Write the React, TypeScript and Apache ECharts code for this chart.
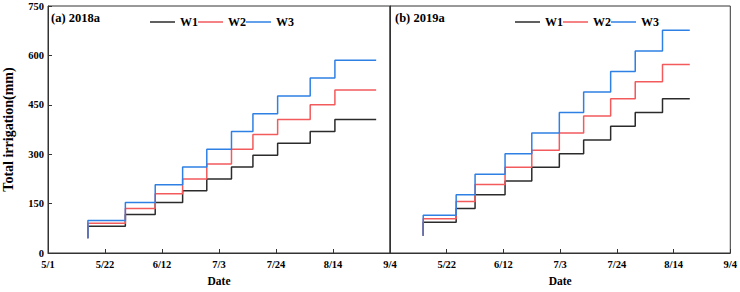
import React, { useEffect, useRef } from "react";
import * as echarts from "echarts";

// Days counted from 5/1; tick labels every 21 days
const tickLabels = ["5/1", "5/22", "6/12", "7/3", "7/24", "8/14", "9/4"];

// 2018: irrigation event days and cumulative irrigation (mm)
const days2018 = [14.7, 28.5, 39.5, 49.6, 58.5, 67.6, 75.5, 84.6, 96.6, 105.7, 120.9];
const w1_2018 = [45, 81, 117, 153, 189, 225, 261, 297, 333, 369, 405];
const w2_2018 = [45, 90, 135, 180, 225, 270, 315, 360, 405, 450, 495];
const w3_2018 = [45, 99, 153, 207, 261, 315, 369, 423, 477, 531, 585];

// 2019: irrigation event days and cumulative irrigation (mm)
const days2019 = [12.3, 24.5, 31.5, 42.6, 52.5, 62.7, 71.7, 81.7, 90.8, 100.9, 111.0];
const w1_2019 = [52, 93.6, 135.2, 176.8, 218.4, 260, 301.6, 343.2, 384.8, 426.4, 468];
const w2_2019 = [52, 104, 156, 208, 260, 312, 364, 416, 468, 520, 572];
const w3_2019 = [52, 114.4, 176.8, 239.2, 301.6, 364, 426.4, 488.8, 551.2, 613.6, 676];

const seriesNames = ["W1", "W2", "W3"];
const colors = ["#2b2b2b", "#f25a5c", "#2f80e4"];

const FONT = "'Liberation Serif', 'Times New Roman', serif";

function pairs(xs: number[], ys: number[]) {
  return xs.map((x, i) => [x, ys[i]]);
}

export default function App() {
  const ref = useRef<HTMLDivElement>(null);

  useEffect(() => {
    if (!ref.current) return;
    const chart = echarts.init(ref.current, null, { renderer: "svg", width: 740, height: 292 });

    const labelStyle = {
      fontFamily: FONT,
      fontWeight: "bold" as const,
      fontSize: 10.5,
      color: "#000",
    };
    const xAxisBase = (gridIndex: number, showMin: boolean) => ({
      type: "value" as const,
      gridIndex,
      min: 0,
      max: 126,
      interval: 21,
      name: "Date",
      nameLocation: "middle" as const,
      nameGap: 22,
      nameTextStyle: { fontFamily: FONT, fontWeight: "bold" as const, fontSize: 11.5, color: "#000" },
      axisLine: { show: true, lineStyle: { color: "#333", width: 1 } },
      axisTick: { show: true, inside: true, length: 4, lineStyle: { color: "#333" } },
      axisLabel: {
        ...labelStyle,
        margin: 6,
        showMinLabel: showMin,
        formatter: (v: number) => tickLabels[Math.round(v / 21)] ?? "",
      },
      splitLine: { show: false },
    });

    const yAxisBase = (gridIndex: number, withLabels: boolean) => ({
      type: "value" as const,
      gridIndex,
      min: 0,
      max: 750,
      interval: 150,
      name: withLabels ? "Total irrigation(mm)" : "",
      nameLocation: "middle" as const,
      nameGap: 33,
      nameTextStyle: { fontFamily: FONT, fontWeight: "bold" as const, fontSize: 14, color: "#000" },
      axisLine: { show: true, lineStyle: { color: "#333", width: 1 } },
      axisTick: { show: withLabels, inside: true, length: 4, lineStyle: { color: "#333" } },
      axisLabel: { ...labelStyle, show: withLabels, margin: 4 },
      splitLine: { show: false },
    });

    const makeSeries = (xi: number, days: number[], values: number[][]) =>
      values.map((vals, i) => ({
        name: seriesNames[i],
        type: "line" as const,
        xAxisIndex: xi,
        yAxisIndex: xi,
        step: "start" as const,
        symbol: "none",
        data: pairs(days, vals),
        lineStyle: { color: colors[i], width: 1.5 },
        itemStyle: { color: colors[i] },
        z: 2 + i,
      }));

    const legendBase = (left: number) => ({
      left,
      top: 11,
      icon: "rect",
      itemWidth: 25,
      itemHeight: 1.5,
      itemGap: 0,
      data: seriesNames,
      textStyle: { fontFamily: FONT, fontWeight: "bold" as const, fontSize: 12, color: "#000" },
    });

    chart.setOption({
      animation: false,
      backgroundColor: "#fff",
      grid: [
        { left: 47, right: 350, top: 6, bottom: 35, show: true, borderColor: "#333", borderWidth: 1 },
        { left: 390, right: 7, top: 6, bottom: 35, show: true, borderColor: "#333", borderWidth: 1 },
      ],
      xAxis: [xAxisBase(0, true), xAxisBase(1, false)],
      yAxis: [yAxisBase(0, true), yAxisBase(1, false)],
      legend: [legendBase(145), legendBase(510)],
      graphic: [
        {
          type: "text",
          left: 51,
          top: 11,
          style: { text: "(a) 2018a", fontFamily: FONT, fontWeight: "bold", fontSize: 12.5, fill: "#000" },
        },
        {
          type: "text",
          left: 395,
          top: 11,
          style: { text: "(b) 2019a", fontFamily: FONT, fontWeight: "bold", fontSize: 12.5, fill: "#000" },
        },
      ],
      series: [
        ...makeSeries(0, days2018, [w1_2018, w2_2018, w3_2018]),
        ...makeSeries(1, days2019, [w1_2019, w2_2019, w3_2019]),
      ],
    });

    return () => chart.dispose();
  }, []);

  return (
    <div
      ref={ref}
      style={{ position: "fixed", left: 0, top: 0, width: 740, height: 292 }}
    />
  );
}
